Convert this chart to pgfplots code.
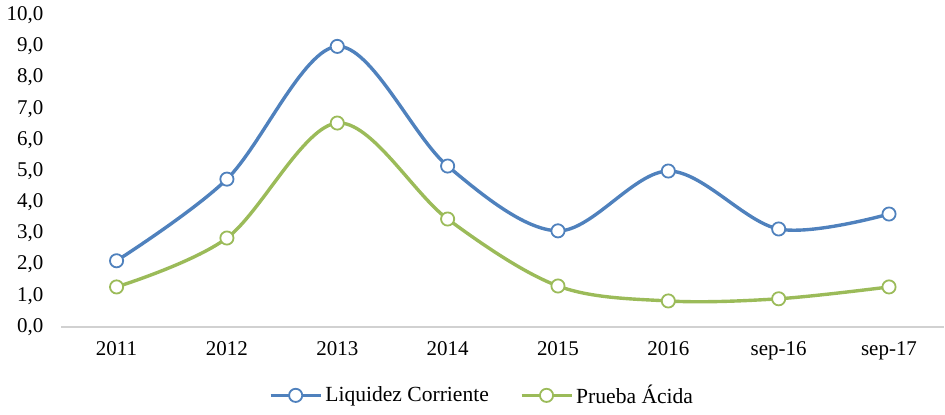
\documentclass[border=0pt]{standalone}
\usepackage{pgfplots}
\pgfplotsset{compat=1.18}
\usepackage{fontspec}
\setmainfont{Liberation Serif}
\definecolor{azul}{HTML}{4F81BD}
\definecolor{verde}{HTML}{9BBB59}
\begin{document}
\begin{tikzpicture}
\begin{axis}[
    scale only axis,
    width=442pt, height=156pt,
    xmin=-0.5, xmax=7.5,
    ymin=0, ymax=10,
    xtick={0,...,7},
    xticklabels={2011,2012,2013,2014,2015,2016,sep-16,sep-17},
    ytick={0,1,...,10},
    axis lines=left,
    x axis line style={draw=black!18, line width=0.8pt, -},
    y axis line style={draw=none},
    major tick length=0pt,
    tick label style={font=\fontsize{10.5pt}{12pt}\selectfont},
    yticklabel style={xshift=-5.5pt},
    xticklabel style={yshift=-4pt},
    y tick label style={/pgf/number format/.cd, fixed, fixed zerofill, precision=1, use comma, assume math mode=true},
    scaled y ticks=false,
    clip=false,
    legend style={at={(0.477,-0.22)}, anchor=center, draw=none, legend columns=2,
        font=\fontsize{10.8pt}{12pt}\selectfont,
        nodes={inner xsep=1.5pt},
        /tikz/every even column/.append style={column sep=14pt}},
    legend image code/.code={\draw[mark repeat=2, mark phase=2, #1] plot coordinates {(0cm,0cm) (0.44cm,0cm) (0.88cm,0cm)};},
    legend cell align=left,
]
\addplot[azul, line width=1.7pt, smooth, tension=0.55, mark=*, mark size=3.3pt,
    mark options={fill=white, line width=0.9pt}]
    coordinates {(0,2.12) (1,4.74) (2,9.0) (3,5.16) (4,3.08) (5,5.0) (6,3.14) (7,3.62)};
\addlegendentry{Liquidez Corriente}
\addplot[verde, line width=1.7pt, smooth, tension=0.55, mark=*, mark size=3.3pt,
    mark options={fill=white, line width=0.9pt}]
    coordinates {(0,1.28) (1,2.85) (2,6.54) (3,3.46) (4,1.31) (5,0.83) (6,0.9) (7,1.28)};
\addlegendentry{Prueba Ácida}
\end{axis}
\end{tikzpicture}
\end{document}
